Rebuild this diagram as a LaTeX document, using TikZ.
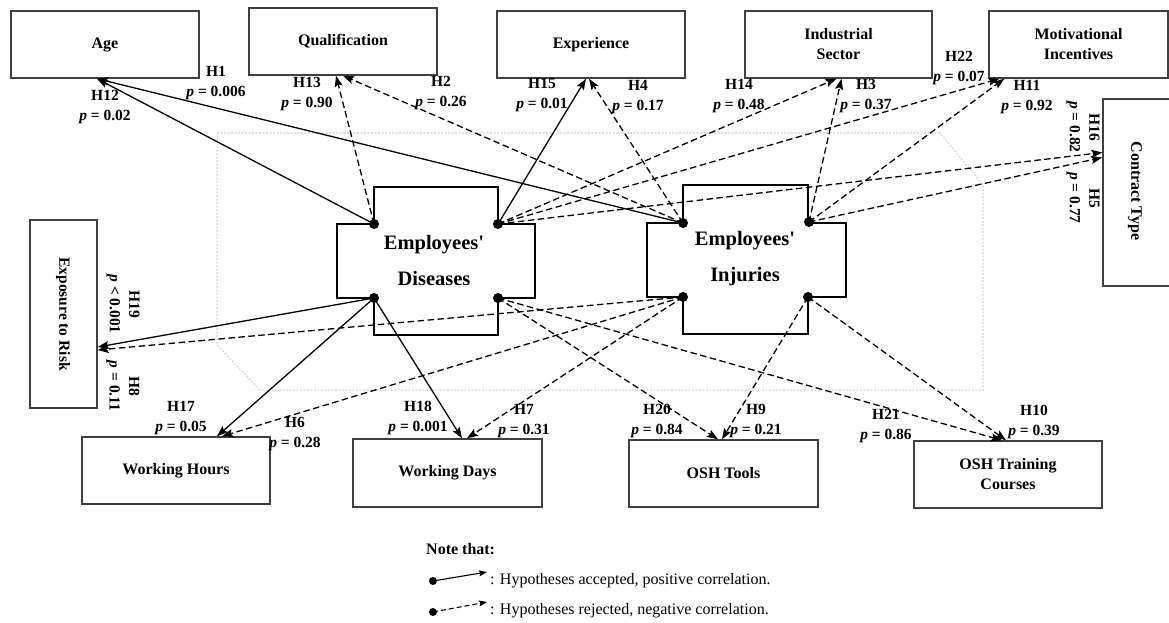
\documentclass[tikz,border=0pt]{standalone}
\usepackage{fontspec}
\setmainfont{Liberation Serif}
\usetikzlibrary{arrows.meta}
\newcommand{\pval}[1]{{\itshape p} = #1}
\begin{document}
\begin{tikzpicture}[x=1pt,y=-1pt,
  box/.style={draw=black!75,line width=1.4pt,minimum width=188pt,minimum height=67pt,inner sep=0pt,align=center,font=\fontsize{16}{20}\selectfont\bfseries},
  vbox/.style={box,minimum width=67pt,minimum height=188pt},
  hyp/.style={align=center,inner sep=0pt,font=\fontsize{15.5}{19.5}\selectfont\bfseries},
  big/.style={align=center,inner sep=0pt,font=\fontsize{20.5}{36}\selectfont\bfseries},
  crossshape/.style={draw=black,line width=1.3pt},
  acc/.style={line width=1.3pt,-{Stealth[length=11pt,width=8pt,inset=2pt]}},
  rej/.style={acc,dash pattern=on 6.5pt off 3.5pt},
  dotmark/.style={circle,fill=black,inner sep=0pt,minimum size=10pt},
  bgframe/.style={draw=black!13,line width=1.5pt,dash pattern=on 2pt off 1.5pt},
  legtext/.style={anchor=west,inner sep=0pt,font=\fontsize{16}{20}\selectfont},
]
\useasboundingbox (0,0) rectangle (1169,623);

% light background frame
\draw[bgframe] (217,133) -- (940,133) -- (983,185) -- (983,390) -- (260,390) -- (217,345) -- cycle;

% outer boxes
\node[box] (age)   at (105,44.5)  {Age};
\node[box] (qual)  at (343,41.5)  {Qualification};
\node[box] (exper) at (591,44.5)  {Experience};
\node[box,minimum width=187pt] (indus) at (838.5,44.5) {Industrial\\Sector};
\node[box,minimum width=179pt] (motiv) at (1078.5,44.5) {Motivational\\Incentives};
\node[vbox,minimum width=68pt,minimum height=187pt] (contract) at (1137,192.5) {};
\node[rotate=-90,inner sep=0pt,font=\fontsize{16}{20}\selectfont\bfseries] (contractlbl) at (1135,191) {Contract Type};
\node[vbox] (expo) at (63.5,314) {};
\node[rotate=-90,inner sep=0pt,font=\fontsize{15.5}{20}\selectfont\bfseries] (expolbl) at (63,314) {Exposure to Risk};
\node[box] (hours) at (176,470.5) {Working Hours};
\node[box,minimum width=189pt,minimum height=68pt] (days) at (447.5,473) {Working Days};
\node[box,minimum width=189pt] (tools) at (723.5,473.5) {OSH Tools};
\node[box] (train) at (1008,474.5) {OSH Training\\Courses};

% central cross shapes
\coordinate (dTL) at (374,224); \coordinate (dTR) at (498,224);
\coordinate (dBL) at (374,298); \coordinate (dBR) at (498,298);
\coordinate (iTL) at (683,223); \coordinate (iTR) at (809,222);
\coordinate (iBL) at (683,297); \coordinate (iBR) at (808,297);
\draw[crossshape] (374,187) -- (498,187) -- (dTR) -- (535,224) -- (535,298) -- (dBR) -- (498,335) -- (374,335) -- (dBL) -- (337,298) -- (337,224) -- (dTL) -- cycle;
\draw[crossshape] (683,185) -- (808,185) -- (808,223) -- (846,223) -- (846,297) -- (iBR) -- (808,334) -- (683,334) -- (iBL) -- (647,297) -- (647,223) -- (iTL) -- cycle;
\node[big] (dis) at (434,260) {Employees\textquotesingle\\Diseases};
\node[big] (inj) at (745,259) {Employees\textquotesingle\\Injuries};

% connectors: top
\draw[acc] (dTL) -- ([xshift=-8pt]age.south);
\draw[acc] (iTL) -- ([xshift=-8pt]age.south);
\draw[rej] (dTL) -- ([xshift=-7pt]qual.south);
\draw[rej] (iTL) -- ([xshift=0pt]qual.south);
\draw[acc] (dTR) -- ([xshift=-5pt]exper.south);
\draw[rej] (iTL) -- ([xshift=-2pt]exper.south);
\draw[rej] (dTR) -- ([xshift=-2pt]indus.south);
\draw[rej] (iTR) -- ([xshift=3pt]indus.south);
\draw[rej] (dTR) -- ([xshift=11pt]motiv.south west);
\draw[rej] (iTR) -- ([xshift=16pt]motiv.south west);
\draw[rej] (dTR) -- ([yshift=40pt]contract.west);
\draw[rej] (iTR) -- ([yshift=35pt]contract.west);
% connectors: bottom and left
\draw[acc] (dBL) -- ([yshift=-33pt]expo.east);
\draw[rej] (iBL) -- ([yshift=-36pt]expo.east);
\draw[acc] (dBL) -- ([xshift=41pt]hours.north);
\draw[rej] (iBL) -- ([xshift=46pt]hours.north);
\draw[acc] (dBL) -- ([xshift=14.5pt]days.north);
\draw[rej] (iBL) -- ([xshift=19.5pt]days.north);
\draw[rej] (dBR) -- ([xshift=-5.5pt]tools.north);
\draw[rej] (iBR) -- ([xshift=-1.5pt]tools.north);
\draw[rej] (dBR) -- ([xshift=-6pt]train.north);
\draw[rej] (iBR) -- ([xshift=-2pt]train.north);

% dots
\foreach \c in {dTL,dTR,dBL,dBR,iTL,iTR,iBL,iBR} \node[dotmark] (dot\c) at (\c) {};

% hypothesis labels
\node[hyp] (lH12) at (105,107) {H12\\\pval{0.02}};
\node[hyp] (lH1)  at (216,83)  {H1\\\pval{0.006}};
\node[hyp] (lH13) at (307,94)  {H13\\\pval{0.90}};
\node[hyp] (lH2)  at (441,93)  {H2\\\pval{0.26}};
\node[hyp] (lH15) at (542,95)  {H15\\\pval{0.01}};
\node[hyp] (lH4)  at (638,97)  {H4\\\pval{0.17}};
\node[hyp] (lH14) at (739,96)  {H14\\\pval{0.48}};
\node[hyp] (lH3)  at (866,96)  {H3\\\pval{0.37}};
\node[hyp] (lH22) at (959,68)  {H22\\\pval{0.07}};
\node[hyp] (lH11) at (1027,97) {H11\\\pval{0.92}};
\node[hyp,rotate=-90] (lH16) at (1083,127) {H16\\\pval{0.82}};
\node[hyp,rotate=-90] (lH5)  at (1083,198) {H5\\\pval{0.77}};
\node[hyp,rotate=-90] (lH19) at (123,304) {H19\\{\itshape p} < 0.001};
\node[hyp,rotate=-90] (lH8)  at (123,386) {H8\\\pval{0.11}};
\node[hyp] (lH17) at (181,418) {H17\\\pval{0.05}};
\node[hyp] (lH6)  at (295,434) {H6\\\pval{0.28}};
\node[hyp] (lH18) at (418,418) {H18\\\pval{0.001}};
\node[hyp] (lH7)  at (524,421) {H7\\\pval{0.31}};
\node[hyp] (lH20) at (657,421) {H20\\\pval{0.84}};
\node[hyp] (lH9)  at (756,421) {H9\\\pval{0.21}};
\node[hyp] (lH21) at (886,426) {H21\\\pval{0.86}};
\node[hyp] (lH10) at (1034,422) {H10\\\pval{0.39}};

% legend
\node[legtext,font=\fontsize{16}{20}\selectfont\bfseries] (note) at (426,549) {Note that:};
\coordinate (la1) at (433,581); \coordinate (la2) at (487,572);
\coordinate (lb1) at (433,612); \coordinate (lb2) at (487,602);
\draw[line width=1.1pt,-{Stealth[length=8pt,width=6pt,inset=1.5pt]}] (la1) -- (la2);
\draw[line width=1.1pt,dash pattern=on 5pt off 3pt,-{Stealth[length=8pt,width=6pt,inset=1.5pt]}] (lb1) -- (lb2);
\node[dotmark,minimum size=8pt] (ldota) at (la1) {};
\node[dotmark,minimum size=8pt] (ldotb) at (lb1) {};
\node[legtext] (leg1) at (490,581) {: Hypotheses accepted, positive correlation.};
\node[legtext] (leg2) at (490,611) {: Hypotheses rejected, negative correlation.};
\end{tikzpicture}
\end{document}
